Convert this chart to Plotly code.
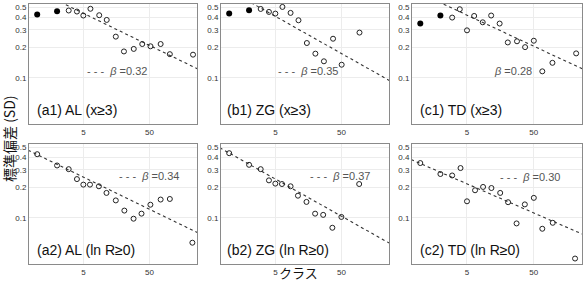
import math
import plotly.graph_objects as go

W, H = 586, 286

# ---------------- data ----------------
a1_fx = [1, 2]
a1_fy = [0.427, 0.46]
a1_x = [3, 4, 5, 6.4, 8.7, 11.3, 15.5, 20.6, 29, 39, 52, 74, 102, 229]
a1_y = [0.468, 0.457, 0.417, 0.487, 0.42, 0.377, 0.257, 0.183, 0.194, 0.217, 0.206, 0.217, 0.172, 0.17]

b1_fx = [1, 2]
b1_fy = [0.436, 0.471]
b1_x = [3, 4, 5, 6.4, 8.5, 11.2, 15, 20.2, 27.2, 37.4, 50.5, 94]
b1_y = [0.485, 0.453, 0.436, 0.508, 0.443, 0.374, 0.222, 0.174, 0.146, 0.245, 0.135, 0.282]

c1_fx = [1, 2]
c1_fy = [0.347, 0.417]
c1_x = [3, 3.9, 5, 6.4, 8.6, 11.5, 15.4, 20.4, 28, 37, 50, 67, 95, 215]
c1_y = [0.398, 0.482, 0.297, 0.413, 0.357, 0.417, 0.347, 0.225, 0.231, 0.202, 0.234, 0.116, 0.141, 0.175]

a2_x = [1, 2, 3, 4, 5, 6.3, 8.6, 11.2, 15.5, 20.9, 28.8, 38, 51.8, 74, 102, 224]
a2_y = [0.43, 0.332, 0.305, 0.243, 0.214, 0.214, 0.206, 0.177, 0.149, 0.118, 0.098, 0.110, 0.135, 0.152, 0.154, 0.0565]

b2_x = [1, 2, 3, 4, 5, 6.3, 8.5, 11, 14.8, 20, 26.5, 36.5, 50, 93]
b2_y = [0.44, 0.337, 0.305, 0.236, 0.219, 0.217, 0.206, 0.166, 0.144, 0.110, 0.107, 0.0796, 0.102, 0.217]

c2_x = [1, 2, 3, 4, 5, 6.6, 8.7, 11.6, 15.7, 20.6, 27.6, 36.7, 50, 67, 96, 207]
c2_y = [0.351, 0.273, 0.264, 0.313, 0.146, 0.188, 0.203, 0.198, 0.177, 0.143, 0.0879, 0.136, 0.158, 0.0778, 0.0892, 0.0393]

# fitted power-law lines: log10(y) = c - b*log10(x)
line_c = [-0.134, -0.129, -0.159, -0.371, -0.355, -0.459]
line_b = [0.32, 0.37, 0.31, 0.32, 0.37, 0.29]
beta_text = ["0.32", "0.35", "0.28", "0.34", "0.37", "0.30"]
panel_labels = ["(a1) AL (x≥3)", "(b1) ZG (x≥3)", "(c1) TD (x≥3)",
                "(a2) AL (ln R≥0)", "(b2) ZG (ln R≥0)", "(c2) TD (ln R≥0)"]

x_ticks = [5, 50]
y_ticks = [0.1, 0.2, 0.3, 0.4, 0.5]
y_ticktext = ["0.1", "0.2", "0.3", "0.4", "0.5"]

# ---------------- layout geometry (pixels) ----------------
col_px = [(29, 197), (221, 389), (412, 582)]
row_px = [(4, 124), (144, 264)]
label_pos = [(35, 110), (225, 110), (418, 110), (35, 250), (225, 250), (418, 250)]
legend_pos = [(85, 71), (276, 71), (492, 71), (117, 176), (308, 176), (498, 177)]
legend_dash = [True, True, False, True, True, True]

FONT = "Liberation Sans, Arial, sans-serif"

fig = go.Figure()

panels = [
    (a1_fx, a1_fy, a1_x, a1_y),
    (b1_fx, b1_fy, b1_x, b1_y),
    (c1_fx, c1_fy, c1_x, c1_y),
    (None, None, a2_x, a2_y),
    (None, None, b2_x, b2_y),
    (None, None, c2_x, c2_y),
]

line_xs = [0.5, 400]

annotations = []
for i, (fx, fy, ox, oy) in enumerate(panels):
    r, c = divmod(i, 3)
    n = i + 1
    xa = "x" if n == 1 else f"x{n}"
    ya = "y" if n == 1 else f"y{n}"
    ly = [10 ** (line_c[i] - line_b[i] * math.log10(v)) for v in line_xs]
    fig.add_trace(go.Scatter(x=line_xs, y=ly, mode="lines", xaxis=xa, yaxis=ya,
                             line=dict(color="#333333", width=1.1, dash="dot"),
                             showlegend=False, hoverinfo="skip"))
    fig.add_trace(go.Scatter(x=ox, y=oy, mode="markers", xaxis=xa, yaxis=ya,
                             marker=dict(symbol="circle-open", size=5, color="#222222",
                                         line=dict(width=1)),
                             showlegend=False))
    if fx is not None:
        fig.add_trace(go.Scatter(x=fx, y=fy, mode="markers", xaxis=xa, yaxis=ya,
                                 marker=dict(symbol="circle", size=6, color="black"),
                                 showlegend=False))
    x0, x1 = col_px[c]
    y0, y1 = row_px[r]
    axis_common = dict(type="log", showline=True, mirror=True, linecolor="#8a8a8a",
                       linewidth=1, showgrid=True, gridcolor="#ececec", gridwidth=1,
                       zeroline=False, ticks="", tickfont=dict(size=8, color="#333333", family=FONT))
    fig.layout[("xaxis" if n == 1 else f"xaxis{n}")] = dict(
        axis_common, domain=[x0 / W, x1 / W], range=[-0.124, 2.42],
        tickvals=x_ticks, ticktext=[str(v) for v in x_ticks], anchor=ya)
    fig.layout[("yaxis" if n == 1 else f"yaxis{n}")] = dict(
        axis_common, domain=[1 - y1 / H, 1 - y0 / H], range=[-1.46, -0.265],
        tickvals=y_ticks, ticktext=y_ticktext, anchor=xa)

    lx, lyp = label_pos[i]
    annotations.append(dict(text=panel_labels[i], x=lx / W, y=1 - lyp / H, xref="paper", yref="paper",
                            xanchor="left", yanchor="middle", showarrow=False,
                            font=dict(size=14, color="#111111", family=FONT)))
    gx, gy = legend_pos[i]
    txt = ("- - -  " if legend_dash[i] else "") + "<i>β</i> =" + beta_text[i]
    annotations.append(dict(text=txt, x=gx / W, y=1 - gy / H, xref="paper", yref="paper",
                            xanchor="left", yanchor="middle", showarrow=False,
                            font=dict(size=11, color="#555555", family=FONT)))

annotations.append(dict(text="標準偏差 (SD)", x=9 / W, y=1 - 139 / H, xref="paper", yref="paper",
                        textangle=-90, xanchor="center", yanchor="middle", showarrow=False,
                        font=dict(size=14, color="#111111", family="Noto Sans CJK JP")))
annotations.append(dict(text="クラス", x=298 / W, y=2 / H, xref="paper", yref="paper",
                        xanchor="center", yanchor="bottom", showarrow=False,
                        font=dict(size=13, color="#111111", family="Noto Sans CJK JP")))

fig.update_layout(width=W, height=H, margin=dict(l=0, r=0, t=0, b=0),
                  paper_bgcolor="white", plot_bgcolor="white",
                  annotations=annotations, showlegend=False,
                  font=dict(family=FONT))

fig.write_html("out.html")
